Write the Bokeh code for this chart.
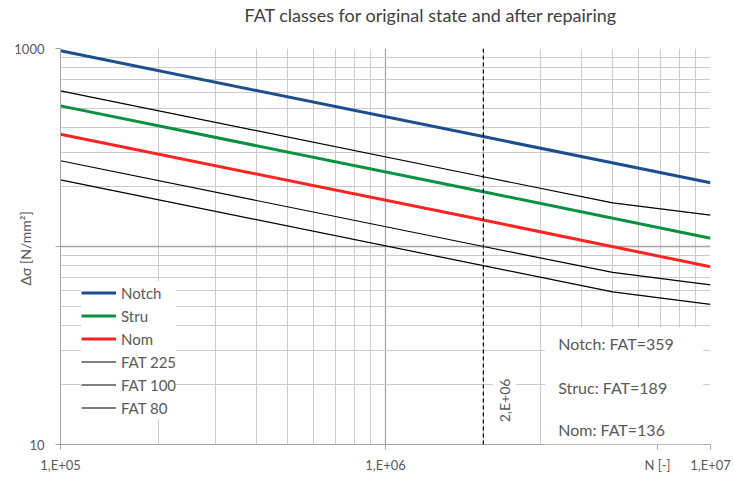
import math
from bokeh.plotting import figure
from bokeh.models import (FixedTicker, Legend, LegendItem, Label, BoxAnnotation, Span)
from bokeh.embed import file_html
from bokeh.resources import INLINE

# ---- data ----
n_straight = [1e5, 2e6, 1e7]
notch = [974, 359, 210]
stru = [513, 189, 110]
nom = [369, 136, 79]

n_kink = [1e5, 2e6, 5e6, 1e7]
fat225 = [611, 225, 166, 144]
fat100 = [271, 100, 74, 64]
fat80 = [217, 80, 59, 51]

x_ticks = [1e5, 1e6, 1e7]
x_tick_labels = ["1,E+05", "1,E+06", "1,E+07"]
x_minor = [2e5, 3e5, 4e5, 5e5, 6e5, 7e5, 8e5, 9e5, 2e6, 3e6, 4e6, 5e6, 6e6, 7e6, 8e6, 9e6]
y_ticks = [10, 100, 1000]
y_tick_labels = ["10", "", "1000"]
y_minor = [20, 30, 40, 50, 60, 70, 80, 90, 200, 300, 400, 500, 600, 700, 800, 900]

title_text = "FAT classes for original state and after repairing"
x_title = "N [-]"
x_title_pos = 6.87e6
y_title = "Δσ  [N/mm²]"

ref_cycles = 2e6
ref_label = "2,E+06"
fat_notes = ["Notch: FAT=359", "Struc: FAT=189", "Nom: FAT=136"]
fat_note_y = [32.3, 19.4, 11.9]

FONT = "Lato"
TXT = "#595959"

p = figure(width=734, height=478, x_axis_type="log", y_axis_type="log",
           x_range=(1e5, 1e7), y_range=(10, 1000),
           output_backend="svg", toolbar_location=None,
           min_border_left=60, min_border_right=24, min_border_top=47, min_border_bottom=34,
           title=title_text + "\n ")
p.outline_line_color = None
p.background_fill_color = "white"

p.title.text_font = FONT
p.title.text_font_size = "18px"
p.title.text_font_style = "normal"
p.title.text_color = "#404040"
p.title.text_line_height = 1.0
p.title.align = "left"
p.title.offset = 184
p.title.standoff = 2

# grids / ticks
axis_ticks = x_ticks + [x_title_pos]
axis_labels = x_tick_labels + [x_title]
p.xaxis.ticker = FixedTicker(ticks=sorted(axis_ticks), minor_ticks=x_minor)
p.xgrid.ticker = FixedTicker(ticks=x_ticks, minor_ticks=x_minor)
p.yaxis.ticker = FixedTicker(ticks=y_ticks, minor_ticks=y_minor)
p.ygrid.ticker = FixedTicker(ticks=y_ticks, minor_ticks=y_minor)
p.xaxis.major_label_overrides = {float(t): l for t, l in zip(axis_ticks, axis_labels)}
p.yaxis.major_label_overrides = {float(t): l for t, l in zip(y_ticks, y_tick_labels)}
for ax in (p.xaxis, p.yaxis):
    ax.axis_line_color = "#A6A6A6"
    ax.major_tick_line_color = "#A6A6A6"
    ax.minor_tick_line_color = None
    ax.major_tick_out = 5
    ax.major_tick_in = 0
    ax.major_label_text_font = FONT
    ax.major_label_text_font_size = "13px"
    ax.major_label_text_color = TXT
p.yaxis.major_label_standoff = 11
p.xaxis.major_label_standoff = 7
p.yaxis.axis_label = y_title
p.yaxis.axis_label_text_font = FONT
p.yaxis.axis_label_text_font_size = "14px"
p.yaxis.axis_label_text_font_style = "normal"
p.yaxis.axis_label_text_color = TXT
p.yaxis.axis_label_standoff = -23

for g in (p.xgrid, p.ygrid):
    g.grid_line_color = "#A6A6A6"
    g.grid_line_width = 1.3
    g.minor_grid_line_color = "#CCCCCC"
    g.minor_grid_line_width = 1

# lines
r_notch = p.line(n_straight, notch, line_color="#1F4E8F", line_width=3)
r_stru = p.line(n_straight, stru, line_color="#08913F", line_width=3)
r_nom = p.line(n_straight, nom, line_color="#FF2424", line_width=3)
r_225 = p.line(n_kink, fat225, line_color="black", line_width=1.2)
r_100 = p.line(n_kink, fat100, line_color="black", line_width=1.2)
r_80 = p.line(n_kink, fat80, line_color="black", line_width=1.2)

p.add_layout(Span(location=ref_cycles, dimension="height", line_color="black",
                  line_width=1.2, line_dash="4 3"))

# white box behind FAT notes
p.add_layout(BoxAnnotation(left=3.1e6, right=9.5e6, bottom=10, top=39,
                           fill_color="white", fill_alpha=1, line_color=None))
for txt, yy in zip(fat_notes, fat_note_y):
    p.add_layout(Label(x=3.4e6, y=yy, text=txt, text_font=FONT,
                       text_font_size="16px", text_color=TXT,
                       text_align="left", text_baseline="middle"))

p.add_layout(Label(x=2.32e6, y=16.7, text=ref_label, angle=math.pi / 2,
                   text_font=FONT, text_font_size="14px", text_color=TXT,
                   text_align="center", text_baseline="middle",
                   background_fill_color="white", padding=3))

legend = Legend(items=[
    LegendItem(label="Notch", renderers=[r_notch]),
    LegendItem(label="Stru", renderers=[r_stru]),
    LegendItem(label="Nom", renderers=[r_nom]),
    LegendItem(label="FAT 225", renderers=[r_225]),
    LegendItem(label="FAT 100", renderers=[r_100]),
    LegendItem(label="FAT 80", renderers=[r_80]),
], location=(21, 25), orientation="vertical")
legend.padding = 6
legend.margin = 0
legend.spacing = 0
legend.glyph_width = 35
legend.glyph_height = 23
legend.label_height = 23
legend.label_standoff = 5
legend.label_text_font = FONT
legend.label_text_font_size = "15px"
legend.label_text_color = TXT
legend.border_line_color = None
legend.background_fill_color = "white"
legend.background_fill_alpha = 1
p.add_layout(legend)

open("out.html", "w").write(file_html(p, INLINE))
